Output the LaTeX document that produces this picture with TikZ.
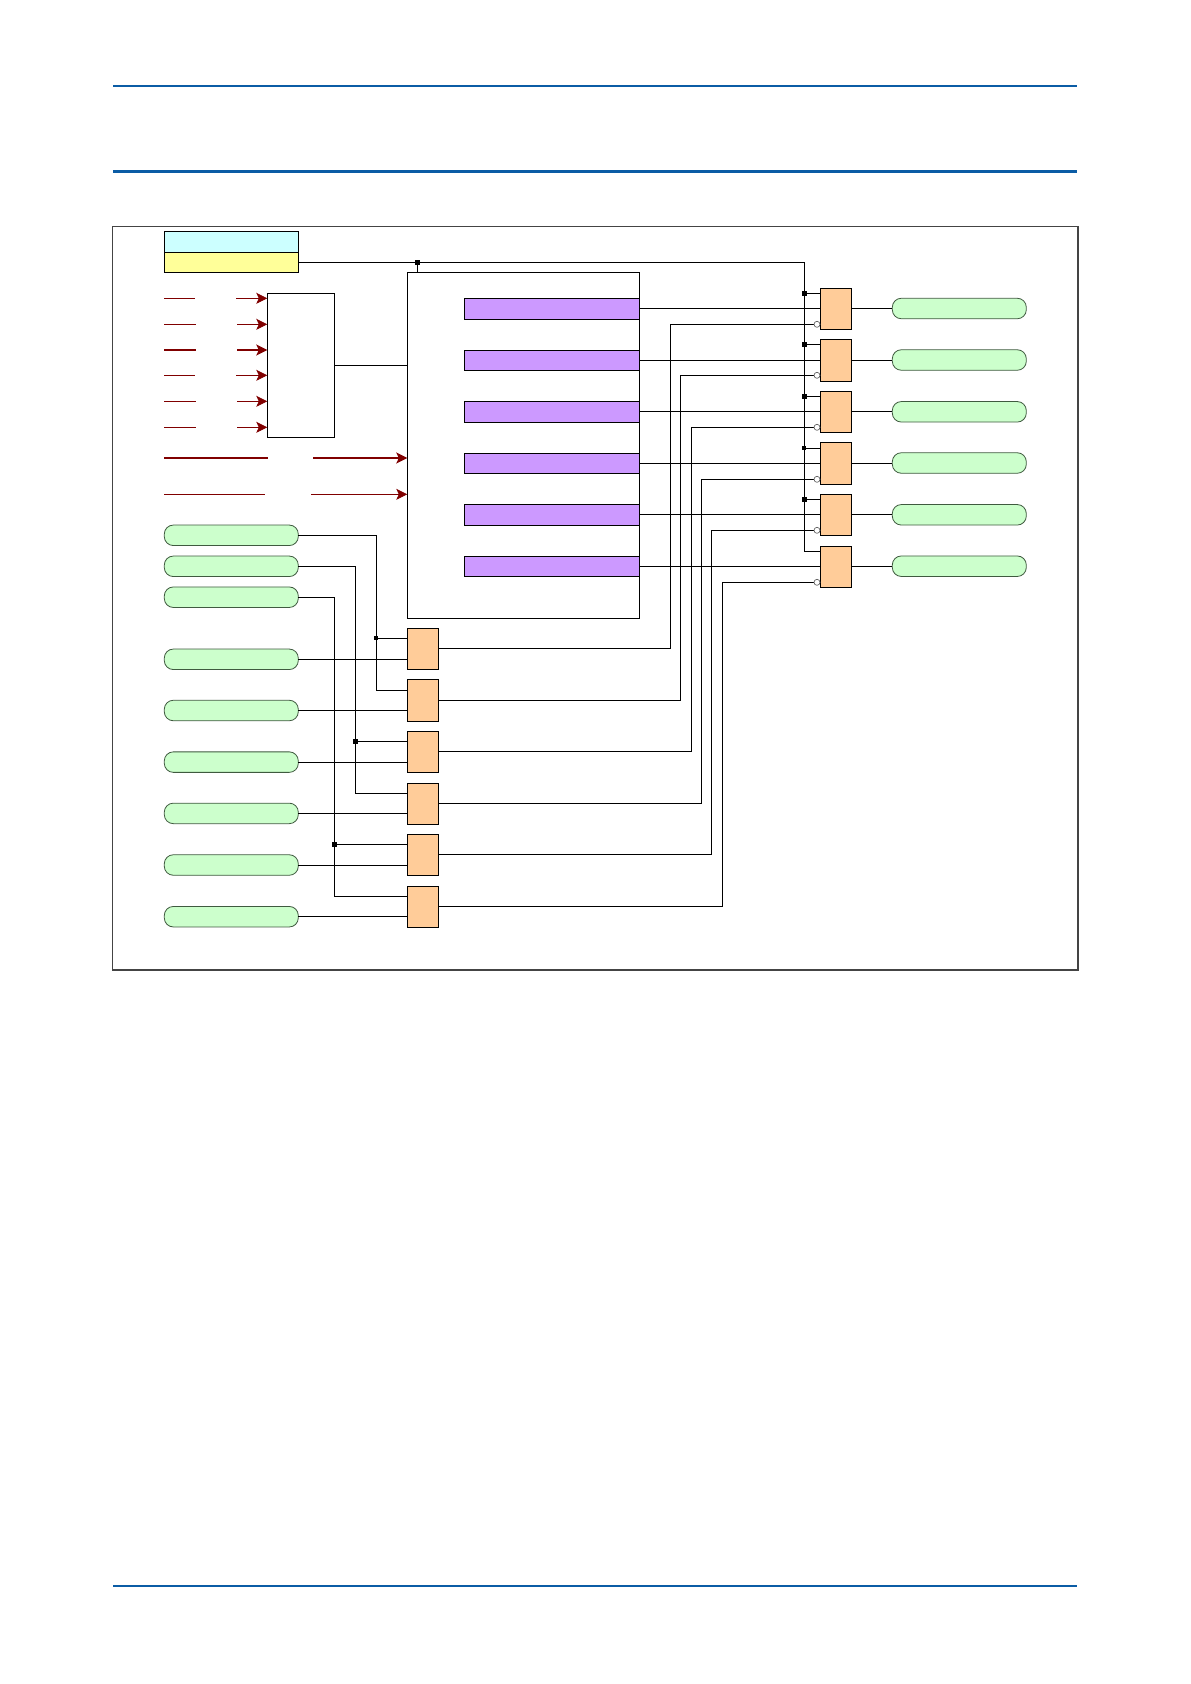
\documentclass[tikz,border=0pt]{standalone}
\usetikzlibrary{arrows.meta}

\definecolor{ruleblue}{HTML}{0B5CA5}
\definecolor{framegray}{HTML}{444444}
\definecolor{sigred}{HTML}{800000}
\definecolor{pillgreen}{HTML}{CCFFCC}
\definecolor{pilledge}{HTML}{3F5A3F}
\definecolor{gateorange}{HTML}{FFCC99}
\definecolor{barpurple}{HTML}{CC99FF}
\definecolor{hdrcyan}{HTML}{CCFFFF}
\definecolor{hdryellow}{HTML}{FFFF99}

\begin{document}
\begin{tikzpicture}[
    x=1pt, y=-1pt,
    line width=0.9pt,
    box/.style={draw=black, rectangle, inner sep=0pt, outer sep=0pt},
    gate/.style={box, fill=gateorange, minimum width=31pt, minimum height=41pt},
    bar/.style={box, fill=barpurple, minimum width=175pt, minimum height=20.5pt},
    pill/.style={draw=pilledge, line width=0.8pt, fill=pillgreen, rectangle, rounded corners=9pt,
        inner sep=0pt, outer sep=0pt, minimum width=134pt, minimum height=20.5pt},
    dot/.style={fill=black, rectangle, inner sep=0pt, outer sep=0pt, minimum size=5pt},
    invert/.style={draw=black!60, fill=white, circle, line width=0.7pt, inner sep=0pt, outer sep=0pt, minimum size=6pt},
    sig/.style={draw=sigred, line width=0.8pt},
    sigarrow/.style={sig, -{Stealth[length=11pt, width=11pt, inset=2.5pt]}}
]
    \useasboundingbox (0,0) rectangle (1191,1684);

    % --- Page rules ---
    \coordinate (RuleAl) at (113,85.7);
    \coordinate (RuleAr) at (1077,85.7);
    \coordinate (RuleBl) at (113,171.3);
    \coordinate (RuleBr) at (1077,171.3);
    \coordinate (RuleCl) at (113,1585.7);
    \coordinate (RuleCr) at (1077,1585.7);
    \draw[ruleblue, line width=1.7pt] (RuleAl) -- (RuleAr);
    \draw[ruleblue, line width=3pt] (RuleBl) -- (RuleBr);
    \draw[ruleblue, line width=1.7pt] (RuleCl) -- (RuleCr);

    % --- Outer frame ---
    \node[draw=framegray, line width=1pt, rectangle, inner sep=0pt, outer sep=0pt,
        minimum width=965.2pt, minimum height=744pt] (Frame) at (595.1,598) {};
    \draw[framegray, line width=2pt] (Frame.south west) -- (Frame.south east) -- (Frame.north east);

    % --- Header boxes ---
    \node[box, fill=hdrcyan, minimum width=134pt, minimum height=21pt] (Hdr) at (231.3,241.8) {};
    \node[box, fill=hdryellow, minimum width=134pt, minimum height=20pt] (Sel) at (231.3,262.3) {};

    % --- Blocks ---
    \node[box, minimum width=67pt, minimum height=144pt] (Mux) at (300.8,365.3) {};
    \node[box, minimum width=232pt, minimum height=346pt] (Core) at (523.3,445.3) {};
    \draw (Mux.east) -- (Mux.east -| Core.west);

    % --- Bars inside the core ---
    \node[bar] (BarA) at (551.8,308.8) {};
    \node[bar] (BarB) at (551.8,360.3) {};
    \node[bar] (BarC) at (551.8,411.8) {};
    \node[bar] (BarD) at (551.8,463.3) {};
    \node[bar] (BarE) at (551.8,514.8) {};
    \node[bar] (BarF) at (551.8,566.3) {};

    % --- Short red inputs ---
    \coordinate (SigAl) at (164,298.3); \coordinate (SigAm) at (195,298.3); \coordinate (SigAr) at (236,298.3);
    \coordinate (SigBl) at (164,324.3); \coordinate (SigBm) at (196,324.3); \coordinate (SigBr) at (237,324.3);
    \coordinate (SigCl) at (164,350);   \coordinate (SigCm) at (196,350);   \coordinate (SigCr) at (237,350);
    \coordinate (SigDl) at (164,375.3); \coordinate (SigDm) at (195,375.3); \coordinate (SigDr) at (236,375.3);
    \coordinate (SigEl) at (164,401.3); \coordinate (SigEm) at (196,401.3); \coordinate (SigEr) at (237,401.3);
    \coordinate (SigFl) at (164,427.3); \coordinate (SigFm) at (196,427.3); \coordinate (SigFr) at (237,427.3);
    \draw[sig] (SigAl) -- (SigAm);
    \draw[sigarrow] (SigAr) -- (SigAr -| Mux.west);
    \draw[sig] (SigBl) -- (SigBm);
    \draw[sigarrow] (SigBr) -- (SigBr -| Mux.west);
    \draw[sig, line width=1.6pt] (SigCl) -- (SigCm);
    \draw[sigarrow, line width=1.6pt] (SigCr) -- (SigCr -| Mux.west);
    \draw[sig] (SigDl) -- (SigDm);
    \draw[sigarrow] (SigDr) -- (SigDr -| Mux.west);
    \draw[sig] (SigEl) -- (SigEm);
    \draw[sigarrow] (SigEr) -- (SigEr -| Mux.west);
    \draw[sig] (SigFl) -- (SigFm);
    \draw[sigarrow] (SigFr) -- (SigFr -| Mux.west);

    % --- Long red inputs ---
    \coordinate (SigGl) at (164,458);   \coordinate (SigGm) at (268,458);   \coordinate (SigGr) at (313,458);
    \coordinate (SigHl) at (164,494.3); \coordinate (SigHm) at (265,494.3); \coordinate (SigHr) at (311,494.3);
    \draw[sig, line width=1.6pt] (SigGl) -- (SigGm);
    \draw[sigarrow, line width=1.6pt] (SigGr) -- (SigGr -| Core.west);
    \draw[sig] (SigHl) -- (SigHm);
    \draw[sigarrow] (SigHr) -- (SigHr -| Core.west);

    % --- Left pills ---
    \node[pill] (InA) at (231.3,535.3) {};
    \node[pill] (InB) at (231.3,566.3) {};
    \node[pill] (InC) at (231.3,597.2) {};
    \node[pill] (InD) at (231.3,659.3) {};
    \node[pill] (InE) at (231.3,710.5) {};
    \node[pill] (InF) at (231.3,762.1) {};
    \node[pill] (InG) at (231.3,813.4) {};
    \node[pill] (InH) at (231.3,865) {};
    \node[pill] (InI) at (231.3,916.7) {};

    % --- Lower gates ---
    \node[gate] (LowA) at (422.8,648.8) {};
    \node[gate, minimum height=42pt] (LowB) at (422.8,700.3) {};
    \node[gate] (LowC) at (422.8,751.8) {};
    \node[gate] (LowD) at (422.8,803.8) {};
    \node[gate] (LowE) at (422.8,854.8) {};
    \node[gate] (LowF) at (422.8,906.8) {};

    \draw (InD.east) -- (InD.east -| LowA.west);
    \draw (InE.east) -- (InE.east -| LowB.west);
    \draw (InF.east) -- (InF.east -| LowC.west);
    \draw (InG.east) -- (InG.east -| LowD.west);
    \draw (InH.east) -- (InH.east -| LowE.west);
    \draw (InI.east) -- (InI.east -| LowF.west);

    \node[dot, minimum size=4pt] (DotA) at (376,638.3) {};
    \node[dot] (DotB) at (355.3,741.3) {};
    \node[dot] (DotC) at (334.3,844.3) {};
    \coordinate (TurnA) at (376.7,690.3);
    \coordinate (TurnB) at (355.3,793.3);
    \coordinate (TurnC) at (334.3,896.3);

    \draw (InA.east) -| (TurnA) -- (TurnA -| LowB.west);
    \draw (InB.east) -| (TurnB) -- (TurnB -| LowD.west);
    \draw (InC.east) -| (TurnC) -- (TurnC -| LowF.west);
    \draw (DotA) -- (DotA -| LowA.west);
    \draw (DotB) -- (DotB -| LowC.west);
    \draw (DotC) -- (DotC -| LowE.west);

    % --- Right gates and pills ---
    \node[gate, minimum width=31.4pt] (UpA) at (836,308.8) {};
    \node[gate, minimum width=31.4pt, minimum height=42pt] (UpB) at (836,360.3) {};
    \node[gate, minimum width=31.4pt] (UpC) at (836,411.8) {};
    \node[gate, minimum width=31.4pt, minimum height=42pt] (UpD) at (836,463.3) {};
    \node[gate, minimum width=31.4pt] (UpE) at (836,514.8) {};
    \node[gate, minimum width=31.4pt] (UpF) at (836,566.8) {};

    \node[pill] (OutA) at (959.3,308.5) {};
    \node[pill] (OutB) at (959.3,360) {};
    \node[pill] (OutC) at (959.3,411.8) {};
    \node[pill] (OutD) at (959.3,463) {};
    \node[pill] (OutE) at (959.3,514.8) {};
    \node[pill] (OutF) at (959.3,566.2) {};

    \draw (OutA.west) -- (OutA.west -| UpA.east);
    \draw (OutB.west) -- (OutB.west -| UpB.east);
    \draw (OutC.west) -- (OutC.west -| UpC.east);
    \draw (OutD.west) -- (OutD.west -| UpD.east);
    \draw (OutE.west) -- (OutE.west -| UpE.east);
    \draw (OutF.west) -- (OutF.west -| UpF.east);

    \draw (BarA.east) -- (BarA.east -| UpA.west);
    \draw (BarB.east) -- (BarB.east -| UpB.west);
    \draw (BarC.east) -- (BarC.east -| UpC.west);
    \draw (BarD.east) -- (BarD.east -| UpD.west);
    \draw (BarE.east) -- (BarE.east -| UpE.west);
    \draw (BarF.east) -- (BarF.east -| UpF.west);

    % --- Enable bus ---
    \node[dot] (DotSel) at (417.3,262.3) {};
    \node[dot] (DotUpA) at (804.3,293.3) {};
    \node[dot] (DotUpB) at (804.3,344.3) {};
    \node[dot] (DotUpC) at (804.3,396.3) {};
    \node[dot, minimum size=4pt] (DotUpD) at (804.3,448) {};
    \node[dot] (DotUpE) at (804.3,499.3) {};
    \coordinate (TurnUp) at (804.3,551.3);

    \draw (Sel.east) -| (TurnUp) -- (TurnUp -| UpF.west);
    \draw (DotSel) -- (DotSel |- Core.north);
    \draw (DotUpA) -- (DotUpA -| UpA.west);
    \draw (DotUpB) -- (DotUpB -| UpB.west);
    \draw (DotUpC) -- (DotUpC -| UpC.west);
    \draw (DotUpD) -- (DotUpD -| UpD.west);
    \draw (DotUpE) -- (DotUpE -| UpE.west);

    % --- Inverted returns ---
    \coordinate (BackA) at (670.7,324.3);
    \coordinate (BackB) at (680.3,375.3);
    \coordinate (BackC) at (691.3,427.3);
    \coordinate (BackD) at (701.3,479.3);
    \coordinate (BackE) at (711.3,530.3);
    \coordinate (BackF) at (722.3,582.3);

    \draw (LowA.east) -| (BackA) -- (BackA -| UpA.west);
    \draw (LowB.east) -| (BackB) -- (BackB -| UpB.west);
    \draw (LowC.east) -| (BackC) -- (BackC -| UpC.west);
    \draw (LowD.east) -| (BackD) -- (BackD -| UpD.west);
    \draw (LowE.east) -| (BackE) -- (BackE -| UpE.west);
    \draw (LowF.east) -| (BackF) -- (BackF -| UpF.west);

    \node[invert] (NotA) at (817,324.3) {};
    \node[invert] (NotB) at (817,375.3) {};
    \node[invert] (NotC) at (817,427.3) {};
    \node[invert] (NotD) at (817,479.3) {};
    \node[invert] (NotE) at (817,530.3) {};
    \node[invert] (NotF) at (817,582.3) {};

\end{tikzpicture}
\end{document}
